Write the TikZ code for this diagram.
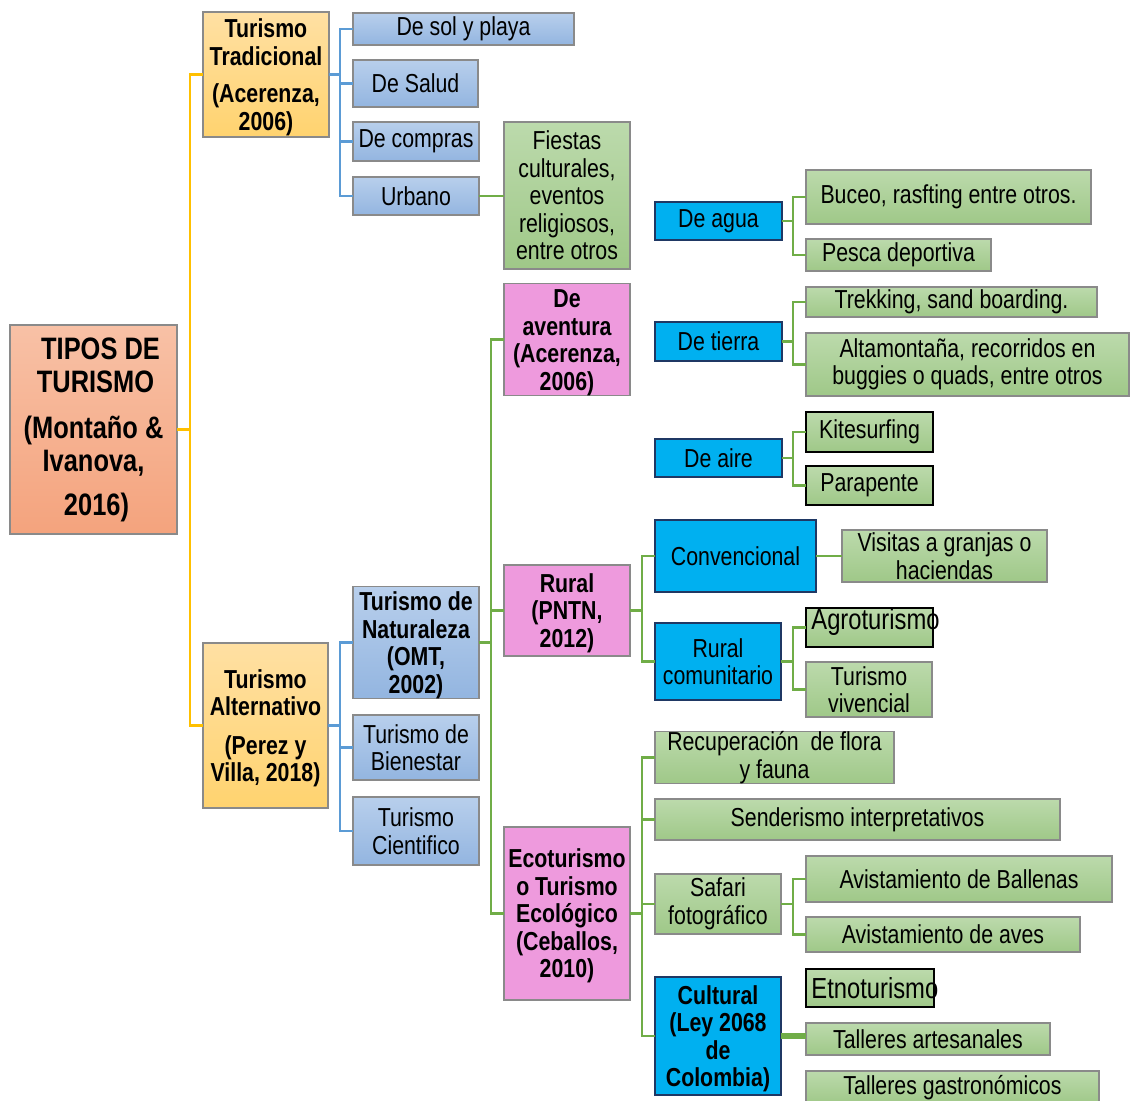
\documentclass[tikz,border=0pt]{standalone}
\usepackage{fontspec}
\setmainfont{Liberation Sans}[FakeStretch=0.82]
\definecolor{yel}{HTML}{FFC000}
\definecolor{blu}{HTML}{5B9BD5}
\definecolor{grn}{HTML}{70AD47}
\definecolor{rootT}{HTML}{F8C1A6}
\definecolor{rootB}{HTML}{F4A37D}
\definecolor{orT}{HTML}{FFE0A3}
\definecolor{orB}{HTML}{FFD36F}
\definecolor{blT}{HTML}{B8CFEC}
\definecolor{blB}{HTML}{93B5E0}
\definecolor{grT}{HTML}{BCDAAC}
\definecolor{grB}{HTML}{9FC888}
\definecolor{pnk}{HTML}{EE9ADD}
\definecolor{cyn}{HTML}{00B0F0}
\definecolor{bord}{HTML}{8A8A8A}
\definecolor{cybord}{HTML}{1F3864}
\newcommand\rg{\fontsize{13}{13.75}\selectfont}
\newcommand\up{\rule{0pt}{12pt}}
\newcommand\bx[7]{%
  \pgfmathsetmacro\bw{(#4-#2)*0.5}%
  \pgfmathsetmacro\bh{(#5-#3)*0.5}%
  \node[#6, minimum width=\bw pt, minimum height=\bh pt] (#1) at ({(#2+#4)/2},{(#3+#5)/2}) {#7};}
\tikzset{
  box/.style={draw=bord, line width=0.6pt, inner sep=0pt, outer sep=0pt, align=center, font=\rg},
  rootbox/.style={box, top color=rootT, bottom color=rootB, font=\bfseries\fontsize{15.5}{16.5}\selectfont},
  orbox/.style={box, top color=orT, bottom color=orB, font=\bfseries\rg},
  blbox/.style={box, top color=blT, bottom color=blB},
  blboxb/.style={blbox, font=\bfseries\rg},
  grbox/.style={box, top color=grT, bottom color=grB},
  grboxk/.style={grbox, draw=black},
  pkbox/.style={box, fill=pnk, font=\bfseries\rg},
  cybox/.style={box, fill=cyn, draw=cybord},
  cyboxb/.style={cybox, font=\bfseries\rg},
  yc/.style={draw=yel, line width=1.4pt},
  bc/.style={draw=blu, line width=1.4pt},
  gc/.style={draw=grn, line width=1.4pt},
  ovl/.style={anchor=west, inner sep=0pt, font=\fontsize{14.5}{15}\selectfont}
}
\begin{document}
\begin{tikzpicture}[x=0.5pt, y=-0.5pt]
\fill[white] (0,0) rectangle (1130,1101);
\useasboundingbox (0,0) rectangle (1130,1101);
% boxes
\bx{root}{10}{325}{177}{534}{rootbox}{\hspace*{7pt}TIPOS DE\\\hspace*{2pt}TURISMO\\[6.5pt](Montaño \&\\Ivanova,\\[5.5pt]\hspace*{3pt}2016)}
\bx{tt}{203}{12}{329}{137}{orbox}{\up Turismo\\Tradicional\\[5pt](Acerenza,\\2006)}
\bx{ta}{203}{643}{328}{808}{orbox}{\up Turismo\\Alternativo\\[5.5pt](Perez y\\Villa, 2018)}
\bx{sol}{353}{13}{574}{45}{blbox}{De sol y playa}
\bx{sal}{353}{60}{478}{107}{blbox}{De Salud}
\bx{com}{353}{122}{479}{161}{blbox}{De compras}
\bx{urb}{353}{177}{479}{215}{blbox}{Urbano}
\bx{fie}{504}{122}{630}{269}{grbox}{Fiestas\\culturales,\\eventos\\religiosos,\\entre otros}
\bx{dav}{504}{285}{630}{394}{pkbox}{\up De\\aventura\\(Acerenza,\\2006)}
\bx{agua}{655}{202}{782}{240}{cybox}{De agua}
\bx{buc}{806}{170}{1091}{224}{grbox}{Buceo, rasfting entre otros.}
\bx{pes}{806}{239}{991}{271}{grbox}{Pesca deportiva}
\bx{tie}{655}{322}{782}{361}{cybox}{De tierra}
\bx{tre}{806}{287}{1097}{317}{grbox}{Trekking, sand boarding.}
\bx{alt}{806}{333}{1129}{396}{grbox}{Altamontaña, recorridos en\\buggies o quads, entre otros}
\bx{air}{655}{439}{782}{477}{cybox}{De aire}
\bx{kit}{806}{412}{933}{452}{grboxk}{Kitesurfing}
\bx{par}{806}{466}{933}{505}{grboxk}{Parapente}
\bx{rur}{504}{565}{630}{656}{pkbox}{\up Rural\\(PNTN,\\2012)}
\bx{conv}{655}{520}{816}{592}{cybox}{Convencional}
\bx{vis}{842}{530}{1047}{582}{grbox}{Visitas a granjas o\\haciendas}
\bx{rcom}{655}{623}{781}{700}{cybox}{Rural\\comunitario}
\bx{agr}{806}{608}{933}{647}{grboxk}{}
\node[ovl] (agrt) at ([xshift=2.5pt,yshift=2.5pt]agr.west) {Agroturismo};
\bx{viv}{806}{662}{932}{717}{grbox}{Turismo\\vivencial}
\bx{tdn}{353}{587}{479}{698}{blboxb}{\up Turismo de\\Naturaleza\\(OMT,\\2002)}
\bx{bie}{353}{715}{479}{780}{blbox}{Turismo de\\Bienestar}
\bx{cie}{353}{797}{479}{865}{blbox}{Turismo\\Cientifico}
\bx{eco}{504}{827}{630}{1000}{pkbox}{\up Ecoturismo\\o Turismo\\Ecológico\\(Ceballos,\\2010)}
\bx{rec}{655}{733}{894}{782}{grbox}{Recuperación\ \ de flora\\y fauna}
\bx{sen}{655}{799}{1060}{840}{grbox}{Senderismo interpretativos}
\bx{saf}{655}{874}{781}{934}{grbox}{Safari\\fotográfico}
\bx{bal}{806}{856}{1112}{902}{grbox}{Avistamiento de Ballenas}
\bx{ave}{806}{917}{1080}{952}{grbox}{Avistamiento de aves}
\bx{cul}{655}{977}{781}{1095}{cyboxb}{\up Cultural\\(Ley 2068\\de\\Colombia)}
\bx{etn}{806}{969}{934}{1007}{grboxk}{}
\node[ovl] (etnt) at ([xshift=2.5pt]etn.west) {Etnoturismo};
\bx{tar}{806}{1023}{1050}{1055}{grbox}{Talleres artesanales}
\bx{tga}{806}{1071}{1099}{1104}{grbox}{Talleres gastronómicos}
% connectors
\draw[yc] (root.east) -- ++(13,0) coordinate (jr);
\draw[yc] (jr) |- (tt.west);
\draw[yc] (jr) |- (ta.west);
\draw[bc] (tt.east) -- ++(11,0) coordinate (jt);
\foreach \c in {sol,sal,com,urb} \draw[bc] (jt) |- (\c.west);
\draw[gc] (urb.east) -- (urb.east -| fie.west);
\draw[bc] (ta.east) -- ++(12,0) coordinate (ja);
\foreach \c in {tdn,bie,cie} \draw[bc] (ja) |- (\c.west);
\draw[gc] (tdn.east) -- ++(12,0) coordinate (jn);
\foreach \c in {dav,rur,eco} \draw[gc] (jn) |- (\c.west);
\draw[gc] (agua.east) -- ++(11,0) coordinate (jag);
\foreach \c in {buc,pes} \draw[gc] (jag) |- (\c.west);
\draw[gc] (tie.east) -- ++(11,0) coordinate (jti);
\foreach \c in {tre,alt} \draw[gc] (jti) |- (\c.west);
\draw[gc] (air.east) -- ++(11,0) coordinate (jai);
\foreach \c in {kit,par} \draw[gc] (jai) |- (\c.west);
\draw[gc] (rur.east) -- ++(12,0) coordinate (jru);
\foreach \c in {conv,rcom} \draw[gc] (jru) |- (\c.west);
\draw[gc] (conv.east) -- (conv.east -| vis.west);
\draw[gc] (rcom.east) -- ++(12,0) coordinate (jrc);
\foreach \c in {agr,viv} \draw[gc] (jrc) |- (\c.west);
\draw[gc] (eco.east) -- ++(12,0) coordinate (jec);
\foreach \c in {rec,sen,saf,cul} \draw[gc] (jec) |- (\c.west);
\draw[gc] (saf.east) -- ++(12,0) coordinate (jsa);
\foreach \c in {bal,ave} \draw[gc] (jsa) |- (\c.west);
\draw[gc, line width=2.6pt] (cul.east) -- (cul.east -| tar.west);
\end{tikzpicture}
\end{document}
